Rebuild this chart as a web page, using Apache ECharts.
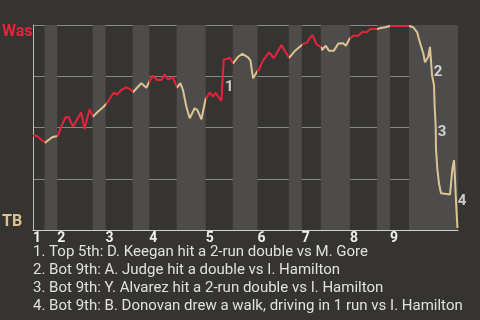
<!DOCTYPE html>
<html><head><meta charset="utf-8">
<script src="https://cdn.jsdelivr.net/npm/echarts@6/dist/echarts.min.js"></script>
<style>html,body{margin:0;padding:0;background:#363430;}#c{width:480px;height:320px;}</style>
</head><body><div id="c"></div>
<script>
// Game progress (0-100) at half-inning boundaries: top1, bot1, top2, bot2, ... bot9
const halfInningEdges = [0, 2.71, 5.70, 14.02, 17.08, 23.44, 27.37, 33.80, 40.64, 47.0, 52.82, 60.19, 63.25, 67.73, 74.56, 80.92, 83.98, 88.46, 100];
const inningLabels = ['1','2','3','4','5','6','7','8','9'];
// Washington win probability (%) against game progress
const progress = [0,0.82,1.77,2.87,3.65,4.66,5.84,6.64,7.66,8.43,9.38,11.35,12.13,13.31,14.09,15.26,16.61,17.39,18.19,19.03,19.74,20.78,21.96,22.26,22.97,23.51,25.49,26.67,27.44,28.22,29.16,30.20,30.98,31.75,32.93,33.88,34.68,35.29,36.09,36.87,38.04,38.68,39.62,40.57,41.58,42.36,42.92,43.70,44.33,44.71,44.88,45.51,46.29,47.07,48.25,49.28,50.60,51.17,51.78,52.18,52.72,53.19,54.13,55.55,56.65,58.47,59.25,60.26,61.60,62.78,63.56,64.50,64.97,65.77,66.08,66.71,67.89,68.0,68.90,69.61,70.79,71.85,72.98,73.62,74.39,75.34,76.51,77.55,78.49,79.43,80.85,81.63,82.80,83.98,88.53,89.47,90.41,90.81,91.28,91.83,92.23,92.63,93.00,93.40,93.64,93.88,94.35,94.51,94.75,94.82,95.12,95.52,96.0,98.12,98.23,98.70,99.06,99.29,99.46,99.65,99.88];
const winProb = [46.0,46.0,44.4,42.6,43.9,45.4,45.9,50.4,55.0,55.0,50.4,57.4,49.3,59.0,55.3,57.7,60.1,61.8,64.5,67.0,66.0,68.3,69.6,70.2,68.6,67.2,71.6,69.4,72.7,75.3,73.2,73.2,76.0,73.5,74.5,69.4,71.6,68.3,60.1,54.5,59.4,58.5,54.0,63.4,67.2,65.0,67.0,64.7,63.1,63.4,83.3,83.4,84.0,81.3,84.5,85.9,84.2,82.6,74.0,74.5,77.2,78.4,82.6,86.7,83.8,90.2,87.3,84.0,87.3,89.4,90.7,91.4,93.2,95.1,95.1,90.6,88.9,87.8,89.9,87.5,87.5,91.0,91.1,89.9,93.0,94.8,94.8,96.7,96.4,98.0,98.0,98.4,98.9,99.5,99.5,98.9,96.4,93.2,89.8,86.2,81.8,81.3,84.5,89.3,82.9,75.6,70.7,60.1,50.4,39.9,30.1,22.8,17.9,17.3,16.6,30.2,34.1,25.4,17.1,9.3,1.0];
// Key event annotations (label position in progress / win prob)
const eventIds = ['1','2','3','4'];
const eventProgress = [46.17, 95.29, 96.23, 100.94];
const eventProb = [69.8, 77.1, 47.8, 14.1];
const notes = [
  '1. Top 5th: D. Keegan hit a 2-run double vs M. Gore',
  '2. Bot 9th: A. Judge hit a double vs I. Hamilton',
  '3. Bot 9th: Y. Alvarez hit a 2-run double vs I. Hamilton',
  '4. Bot 9th: B. Donovan drew a walk, driving in 1 run vs I. Hamilton'
];
const teamTop = 'Was', teamBottom = 'TB';
const RED = '#e8223c', TAN = '#dcc491';

const bands = [], pieces = [];
for (let i = 0; i < halfInningEdges.length - 1; i++) {
  const a = halfInningEdges[i], b = halfInningEdges[i+1];
  if (i % 2 === 1) bands.push([{xAxis: a}, {xAxis: b}]);
  const p = {gte: a, color: i % 2 === 0 ? RED : TAN};
  if (i === halfInningEdges.length - 2) p.lte = b + 5; else p.lt = b;
  pieces.push(p);
}
const inningStarts = halfInningEdges.filter((v, i) => i % 2 === 0 && i < 18);

const chart = echarts.init(document.getElementById('c'));
chart.setOption({
  backgroundColor: '#363430',
  animation: false,
  textStyle: {fontFamily: 'Roboto'},
  grid: {left: 33, right: 22, top: 25, bottom: 90},
  xAxis: {
    type: 'value', min: 0, max: 100,
    axisLine: {show: true, lineStyle: {color: '#cfcfcf', width: 1}},
    axisTick: {show: false},
    splitLine: {show: false},
    axisLabel: {
      customValues: inningStarts,
      formatter: v => inningLabels[inningStarts.indexOf(v)] || '',
      align: 'left', margin: 1, color: '#eeeeee', fontSize: 14, fontWeight: 'bold', fontFamily: 'Roboto'
    }
  },
  yAxis: {
    type: 'value', min: 0, max: 100, interval: 25,
    axisLine: {show: true, lineStyle: {color: '#bdbdbd', width: 1}},
    axisTick: {show: false},
    axisLabel: {show: false},
    splitLine: {show: true, lineStyle: {color: '#888888', width: 1}}
  },
  visualMap: {type: 'piecewise', show: false, dimension: 0, seriesIndex: 1, pieces: pieces},
  graphic: [
    {type: 'text', left: 2, top: 24, style: {text: teamTop, fill: RED, font: 'bold 16px Roboto'}},
    {type: 'text', left: 2, top: 214, style: {text: teamBottom, fill: TAN, font: 'bold 16px Roboto'}},
    {type: 'text', left: 33, top: 243, style: {text: notes.join('\n'), fill: '#e0e0e0', font: '15px Roboto', lineHeight: 18}}
  ],
  series: [
    {type: 'line', data: [], z: -1, silent: true,
     markArea: {silent: true, itemStyle: {color: '#4d4c4a', opacity: 1}, data: bands}},
    {type: 'line', data: progress.map((x, i) => [x, winProb[i]]), showSymbol: false, symbol: 'none',
     lineStyle: {width: 2}, z: 3},
    {type: 'scatter', clip: false, symbolSize: 0, z: 4,
     data: eventIds.map((id, i) => [eventProgress[i], eventProb[i], id]),
     label: {show: true, position: 'inside', formatter: p => p.value[2], color: '#f0f0f0', fontSize: 15, fontWeight: 'bold', fontFamily: 'Roboto'}}
  ]
});
</script></body></html>
